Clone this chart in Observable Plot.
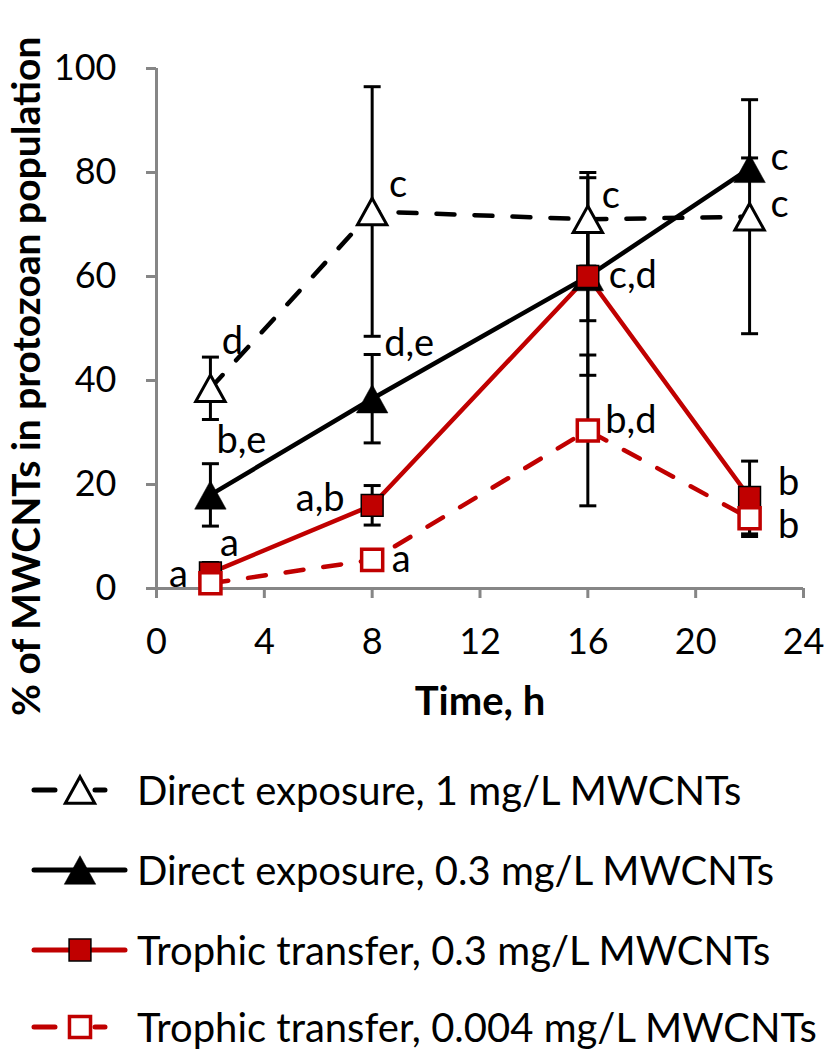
<!DOCTYPE html>
<html>
<head>
<meta charset="utf-8">
<script src="https://cdn.jsdelivr.net/npm/d3@7"></script>
<script src="https://cdn.jsdelivr.net/npm/@observablehq/plot@0.6"></script>
<style>
  body { margin: 0; background: #fff; font-family: Lato, "Open Sans", sans-serif; }
  #chart { position: relative; width: 824px; height: 1050px; overflow: hidden; background: #fff; }
  .legend-row { position: absolute; left: 0; height: 44px; display: flex; align-items: center; white-space: nowrap; }
  .legend-row svg { display: block; }
  .legend-row span { font-family: Lato, sans-serif; font-size: 40px; line-height: 1; color: #000; margin-left: 2px; }
</style>
</head>
<body>
<div id="chart"></div>
<script>
// ---------- data ----------
const times = [2, 8, 16, 22];
const seriesNames = [
  "Direct exposure, 1 mg/L MWCNTs",
  "Direct exposure, 0.3 mg/L MWCNTs",
  "Trophic transfer, 0.3 mg/L MWCNTs",
  "Trophic transfer, 0.004 mg/L MWCNTs"
];
const direct1 = [38.5, 72.5, 71, 71.5];
const direct1Err = [6, 24, 9, 22.5];
const direct03 = [18, 36.5, 60, 80.8];
const direct03Err = [6, 8.5, 19, 2];
const trophic03 = [3, 16, 60, 17.5];
const trophic03Err = [2, 3.8, 8.5, 7];
const trophic004 = [1, 5.5, 30.4, 13.5];
const trophic004Err = [0.5, 0.8, 14.5, 3.5];
const direct1Sig = ["d", "c", "c", "c"];
const direct03Sig = ["b,e", "d,e", "", "c"];
const trophic03Sig = ["a", "a,b", "c,d", "b"];
const trophic004Sig = ["a", "a", "b,d", "b"];
const xTicks = [0, 4, 8, 12, 16, 20, 24];
const yTicks = [0, 20, 40, 60, 80, 100];
const xTitle = "Time, h";
const yTitle = "% of MWCNTs in protozoan population";

// ---------- layout / style (not data) ----------
const RED = "#C00000";
const GRAY = "#868686";
const labelOffsets = [
  [[22, -46], [26, -27], [23, -23], [30, -12]],
  [[31, -54], [37, -55], [0, 0], [30, -11]],
  [[19, -29], [-52, -6], [45, -1], [39, -15]],
  [[-32, -8], [29, 0], [43, -10], [39, 8]]
];
const triSym = {draw(ctx, size) {
  const r = Math.sqrt(size / Math.PI), hw = r * 1.05, hh = r * 0.95;
  ctx.moveTo(0, -hh); ctx.lineTo(hw, hh); ctx.lineTo(-hw, hh); ctx.closePath();
}};
const sqSym = {draw(ctx, size) {
  const r = Math.sqrt(size / Math.PI), h = r * 0.78;
  ctx.moveTo(-h, -h); ctx.lineTo(h, -h); ctx.lineTo(h, h); ctx.lineTo(-h, h); ctx.closePath();
}};
const capSym = {draw(ctx, size) {
  const r = Math.sqrt(size / Math.PI);
  ctx.moveTo(-r, 0); ctx.lineTo(r, 0);
}};
const styles = [
  {stroke: "#000", dash: "18,20", symbol: triSym, r: 14, fill: "#fff", mstroke: "#000", mw: 3},
  {stroke: "#000", dash: null, symbol: triSym, r: 15, fill: "#000", mstroke: "#000", mw: 0.5},
  {stroke: RED, dash: null, symbol: sqSym, r: 14, fill: RED, mstroke: "#000", mw: 1.5},
  {stroke: RED, dash: "18,20", symbol: sqSym, r: 13.5, fill: "#fff", mstroke: RED, mw: 3.5}
];

const values = [direct1, direct03, trophic03, trophic004];
const errors = [direct1Err, direct03Err, trophic03Err, trophic004Err];
const sigs = [direct1Sig, direct03Sig, trophic03Sig, trophic004Sig];

const series = values.map((vals, i) => times.map((t, j) => ({
  series: seriesNames[i], t, v: vals[j],
  lo: vals[j] - errors[i][j], hi: vals[j] + errors[i][j],
  sig: sigs[i][j], dx: labelOffsets[i][j][0], dy: labelOffsets[i][j][1]
})));

const marks = [];
// axes
marks.push(Plot.ruleX([0], {stroke: GRAY, strokeWidth: 3}));
marks.push(Plot.ruleY([0], {stroke: GRAY, strokeWidth: 3}));
marks.push(Plot.axisY({ticks: yTicks, tickSize: 10, tickPadding: 30, stroke: GRAY, strokeWidth: 3, fontSize: 36, label: null, tickFormat: d => d}));
marks.push(Plot.axisX({ticks: xTicks, tickSize: 10, tickPadding: 30, stroke: GRAY, strokeWidth: 3, fontSize: 36, label: null, tickFormat: d => d}));
// error bars
series.forEach(rows => {
  marks.push(Plot.ruleX(rows, {x: "t", y1: "lo", y2: "hi", stroke: "#000", strokeWidth: 3}));
  marks.push(Plot.dot(rows, {x: "t", y: "hi", symbol: capSym, r: 8.5, fill: "none", stroke: "#000", strokeWidth: 3}));
  marks.push(Plot.dot(rows, {x: "t", y: "lo", symbol: capSym, r: 8.5, fill: "none", stroke: "#000", strokeWidth: 3}));
});
// lines
series.forEach((rows, i) => {
  const s = styles[i];
  marks.push(Plot.line(rows, {x: "t", y: "v", stroke: s.stroke, strokeWidth: 4.5,
    strokeDasharray: s.dash || undefined, strokeLinecap: s.dash ? "round" : "butt"}));
});
// markers
series.forEach((rows, i) => {
  const s = styles[i];
  marks.push(Plot.dot(rows, {x: "t", y: "v", symbol: s.symbol, r: s.r, fill: s.fill, stroke: s.mstroke, strokeWidth: s.mw}));
});
// significance labels
series.forEach(rows => {
  rows.filter(d => d.sig).forEach(d => {
    marks.push(Plot.text([d], {x: "t", y: "v", text: "sig", dx: d.dx, dy: d.dy, fontSize: 38, fill: "#000", textAnchor: "middle"}));
  });
});
// x title
marks.push(Plot.text([xTitle], {frameAnchor: "bottom", dy: 126, fontSize: 40, fontWeight: "bold", fill: "#000"}));

const plot = Plot.plot({
  width: 824,
  height: 750,
  marginLeft: 156,
  marginRight: 21,
  marginTop: 68,
  marginBottom: 162,
  x: {domain: [0, 24]},
  y: {domain: [0, 100]},
  style: {fontFamily: "Lato, sans-serif", fontSize: "36px", color: "#000", background: "#fff", overflow: "visible"},
  marks
});

// rotated y title
d3.select(plot).append("text")
  .attr("transform", "translate(40,716) rotate(-90)")
  .attr("text-anchor", "start")
  .attr("font-family", "Lato, sans-serif")
  .attr("font-size", 39)
  .attr("font-weight", "bold")
  .attr("fill", "#000")
  .text(yTitle);

const chart = document.getElementById("chart");
chart.appendChild(plot);

// legend
const legendY = [790, 870, 950, 1027];
seriesNames.forEach((name, i) => {
  const s = styles[i];
  const row = document.createElement("div");
  row.className = "legend-row";
  row.style.top = (legendY[i] - 22) + "px";
  const svg = d3.create("svg").attr("width", 135).attr("height", 44);
  if (s.dash) {
    svg.append("line").attr("x1", 34).attr("x2", 105).attr("y1", 22).attr("y2", 22)
      .attr("stroke", s.stroke).attr("stroke-width", 5).attr("stroke-linecap", "round")
      .attr("stroke-dasharray", "21,40");
  } else {
    svg.append("line").attr("x1", 34).attr("x2", 125).attr("y1", 22).attr("y2", 22)
      .attr("stroke", s.stroke).attr("stroke-width", 5).attr("stroke-linecap", "round");
  }
  const path = d3.path();
  s.symbol.draw(path, s.r * s.r * Math.PI);
  svg.append("path").attr("d", path.toString()).attr("transform", "translate(80,22)")
    .attr("fill", s.fill).attr("stroke", s.mstroke).attr("stroke-width", s.mw);
  row.appendChild(svg.node());
  const span = document.createElement("span");
  span.textContent = name;
  row.appendChild(span);
  chart.appendChild(row);
});
</script>
</body>
</html>
